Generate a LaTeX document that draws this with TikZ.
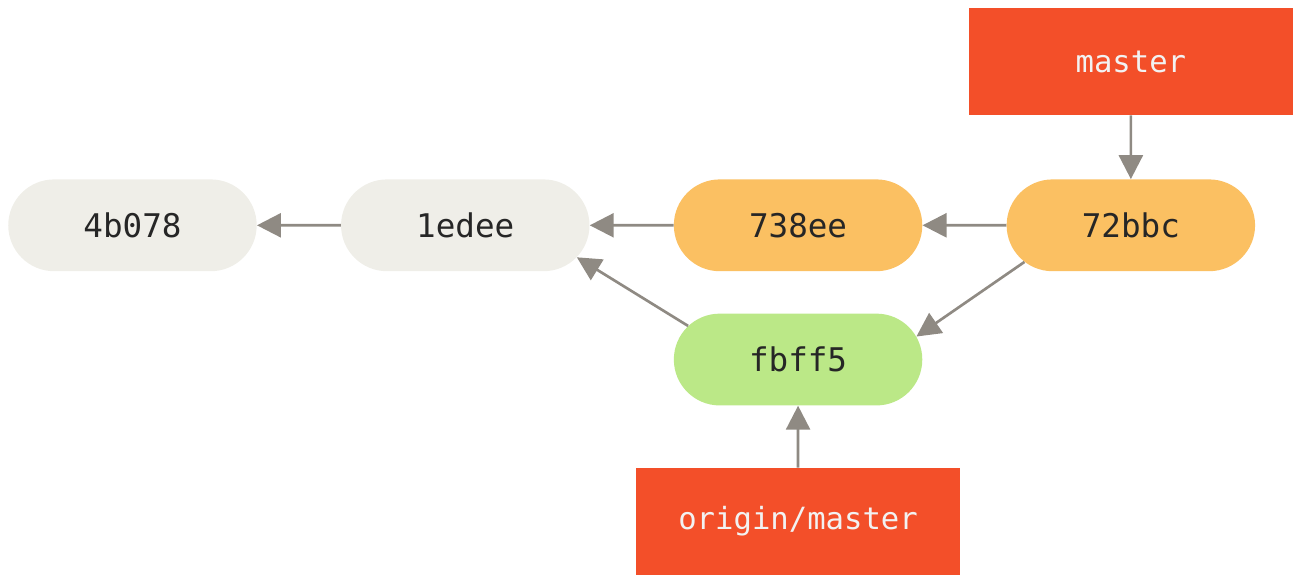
\documentclass[tikz,border=0pt]{standalone}
\usepackage{fontspec}
\setmonofont{DejaVu Sans Mono}
\usepackage{xcolor}
\usetikzlibrary{positioning,shapes.misc,arrows.meta}

\definecolor{commitgrey}{HTML}{EFEEE8}
\definecolor{commitorange}{HTML}{FBC062}
\definecolor{commitgreen}{HTML}{BBE887}
\definecolor{branchred}{HTML}{F34F29}
\definecolor{arrowgrey}{HTML}{8F8A83}

\begin{document}
\begin{tikzpicture}[
  commit/.style={rounded rectangle, minimum width=186.75pt, minimum height=69pt,
                 inner sep=0pt, text=black!85, font=\ttfamily\fontsize{24.5}{26}\selectfont},
  branch/.style={rectangle, fill=branchred, minimum width=243.75pt, minimum height=80.25pt,
                 inner sep=0pt, text=white!95!black, font=\ttfamily\fontsize{23}{25}\selectfont},
  ptr/.style={draw=arrowgrey, line width=2pt, -{Triangle[length=18pt,width=18pt]}},
  node distance=31.5pt and 63pt
]
  % commits
  \node[commit, fill=commitgrey] (c4b078) {4b078};
  \node[commit, fill=commitgrey, right=of c4b078] (c1edee) {1edee};
  \node[commit, fill=commitorange, right=of c1edee] (c738ee) {738ee};
  \node[commit, fill=commitorange, right=of c738ee] (c72bbc) {72bbc};
  \node[commit, fill=commitgreen, below=of c738ee] (cfbff5) {fbff5};
  % branches
  \node[branch, above=48pt of c72bbc] (master) {master};
  \node[branch, below=46.5pt of cfbff5] (origin) {origin/master};

  \path ([xshift=-6pt]c4b078.west) coordinate (bbl) ([yshift=6pt]master.north) coordinate (bbt);
  \useasboundingbox (bbl |- bbt) rectangle ++(969.75pt,-428.25pt);

  \draw[ptr] (c1edee) -- (c4b078); \draw[ptr] (c738ee) -- (c1edee);
  \draw[ptr] (c72bbc) -- (c738ee);
  \draw[ptr] (cfbff5.163) -- (c1edee.-16); \draw[ptr] (c72bbc.199) -- (cfbff5.11);
  \draw[ptr] (master) -- (c72bbc); \draw[ptr] (origin) -- (cfbff5);
\end{tikzpicture}
\end{document}
